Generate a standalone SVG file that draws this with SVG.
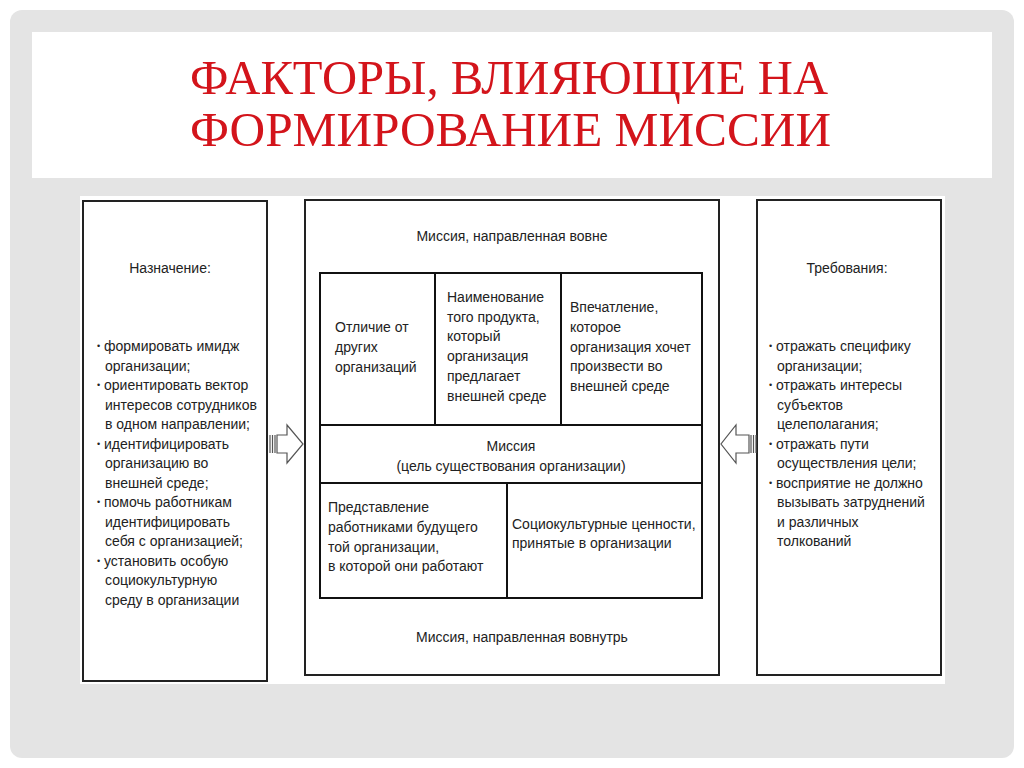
<svg xmlns="http://www.w3.org/2000/svg" width="1024" height="768" viewBox="0 0 1024 768">
<style>
.t{font-family:"Liberation Sans","DejaVu Sans",sans-serif;font-size:14px;fill:#222}
.c{text-anchor:middle}
.b{font-size:9px}
.box{fill:#fff;stroke:#222;stroke-width:2}
.grid{fill:none;stroke:#111;stroke-width:2}
.arr{fill:#fff;stroke:#555;stroke-width:1.2}
.stripe{stroke:#555;stroke-width:1.2}
.title{font-family:"Liberation Serif","DejaVu Serif",serif;font-size:48px;fill:#d3141b}
</style>
<rect x="0" y="0" width="1024" height="768" fill="#fff"/>
<rect x="10" y="10" width="1004" height="748" rx="12" fill="#e4e4e4"/>
<rect x="32" y="32" width="960" height="146" fill="#fff"/>
<g id="title">
<text class="title" x="190" y="94" textLength="638" lengthAdjust="spacingAndGlyphs">ФАКТОРЫ, ВЛИЯЮЩИЕ НА</text>
<text class="title" x="190" y="146" textLength="641" lengthAdjust="spacingAndGlyphs">ФОРМИРОВАНИЕ МИССИИ</text>
</g>
<rect x="80" y="196" width="865" height="488" fill="#fff"/>
<g id="left">
<rect class="box" x="83" y="201" width="184" height="480"/>
<text class="t c" x="170" y="273">Назначение:</text>
<text class="t b"><tspan x="97" y="349">•</tspan><tspan x="97" y="388">•</tspan><tspan x="97" y="446.5">•</tspan><tspan x="97" y="505">•</tspan><tspan x="97" y="563.5">•</tspan></text>
<text class="t"><tspan x="104" y="351">формировать имидж</tspan><tspan x="105" y="370.5">организации;</tspan><tspan x="104" y="390">ориентировать вектор</tspan><tspan x="105" y="409.5">интересов сотрудников</tspan><tspan x="105" y="429">в одном направлении;</tspan><tspan x="104" y="448.5">идентифицировать</tspan><tspan x="105" y="468">организацию во</tspan><tspan x="105" y="487.5">внешней среде;</tspan><tspan x="104" y="507">помочь работникам</tspan><tspan x="105" y="526.5">идентифицировать</tspan><tspan x="105" y="546">себя с организацией;</tspan><tspan x="104" y="565.5">установить особую</tspan><tspan x="105" y="585">социокультурную</tspan><tspan x="105" y="604.5">среду в организации</tspan></text>
</g>
<g id="center">
<rect class="box" x="305" y="200" width="414" height="475"/>
<text class="t c" x="512" y="241">Миссия, направленная вовне</text>
<text class="t c" x="522" y="642">Миссия, направленная вовнутрь</text>
</g>
<g id="grid">
<rect class="grid" x="320" y="273" width="382" height="325"/>
<line class="grid" x1="320" y1="425" x2="702" y2="425"/>
<line class="grid" x1="320" y1="483" x2="702" y2="483"/>
<line class="grid" x1="435" y1="273" x2="435" y2="425"/>
<line class="grid" x1="561" y1="273" x2="561" y2="425"/>
<line class="grid" x1="507" y1="483" x2="507" y2="598"/>
</g>
<g id="cell-otlichie">
<text class="t"><tspan x="335" y="332">Отличие от</tspan><tspan x="335" y="352">других</tspan><tspan x="335" y="372">организаций</tspan></text>
</g>
<g id="cell-naimenovanie">
<text class="t"><tspan x="447" y="302">Наименование</tspan><tspan x="447" y="322">того продукта,</tspan><tspan x="447" y="341">который</tspan><tspan x="447" y="361">организация</tspan><tspan x="447" y="381">предлагает</tspan><tspan x="447" y="401">внешней среде</tspan></text>
</g>
<g id="cell-vpechatlenie">
<text class="t"><tspan x="570" y="312">Впечатление,</tspan><tspan x="570" y="332">которое</tspan><tspan x="570" y="352">организация хочет</tspan><tspan x="570" y="371">произвести во</tspan><tspan x="570" y="391">внешней среде</tspan></text>
</g>
<g id="cell-missiya">
<text class="t c"><tspan x="511" y="451">Миссия</tspan><tspan x="511" y="471">(цель существования организации)</tspan></text>
</g>
<g id="cell-predstavlenie">
<text class="t"><tspan x="328" y="512">Представление</tspan><tspan x="328" y="532">работниками будущего</tspan><tspan x="328" y="552">той организации,</tspan><tspan x="328" y="571">в которой они работают</tspan></text>
</g>
<g id="cell-cennosti">
<text class="t"><tspan x="512" y="529">Социокультурные ценности,</tspan><tspan x="512" y="548">принятые в организации</tspan></text>
</g>
<g id="right">
<rect class="box" x="757" y="200" width="184" height="475"/>
<text class="t c" x="847" y="273">Требования:</text>
<text class="t b"><tspan x="769" y="349">•</tspan><tspan x="769" y="388">•</tspan><tspan x="769" y="446.5">•</tspan><tspan x="769" y="485.5">•</tspan></text>
<text class="t"><tspan x="776" y="351">отражать специфику</tspan><tspan x="777" y="370.5">организации;</tspan><tspan x="776" y="390">отражать интересы</tspan><tspan x="777" y="409.5">субъектов</tspan><tspan x="777" y="429">целеполагания;</tspan><tspan x="776" y="448.5">отражать пути</tspan><tspan x="777" y="468">осуществления цели;</tspan><tspan x="776" y="487.5">восприятие не должно</tspan><tspan x="777" y="507">вызывать затруднений</tspan><tspan x="777" y="526.5">и различных</tspan><tspan x="777" y="546">толкований</tspan></text>
</g>
<g id="connectors">
<g>
<line class="stripe" x1="270" y1="435" x2="270" y2="453"/>
<line class="stripe" x1="272.5" y1="435" x2="272.5" y2="453"/>
<line class="stripe" x1="275" y1="435" x2="275" y2="453"/>
<polygon class="arr" points="277,435 287,435 287,425 303,444 287,463 287,453 277,453"/>
</g>
<g>
<line class="stripe" x1="756" y1="435" x2="756" y2="453"/>
<line class="stripe" x1="753.5" y1="435" x2="753.5" y2="453"/>
<line class="stripe" x1="751" y1="435" x2="751" y2="453"/>
<polygon class="arr" points="749,435 736,435 736,425 721,444 736,463 736,453 749,453"/>
</g>
</g>
</svg>
